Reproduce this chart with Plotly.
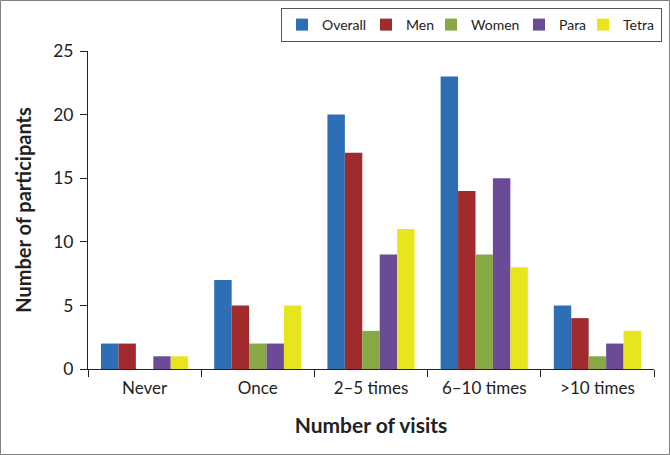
import plotly.graph_objects as go

categories = ["Never", "Once", "2–5 times", "6–10 times", ">10 times"]
overall = [2, 7, 20, 23, 5]
men = [2, 5, 17, 14, 4]
women = [0, 2, 3, 9, 1]
para = [1, 2, 9, 15, 2]
tetra = [1, 5, 11, 8, 3]
series_names = ["Overall", "Men", "Women", "Para", "Tetra"]
colors = ["#2E6EB5", "#A12A2C", "#87A845", "#6C4B96", "#E8E41E"]
legend_widths = [39, 20, 43, 19, 33]

W, H = 670, 455
L, R, T, B = 88, 16, 51, 86
pw, ph = W - L - R, H - T - B

fig = go.Figure()
for name, vals, col, lw in zip(series_names, [overall, men, women, para, tetra], colors, legend_widths):
    fig.add_trace(go.Bar(x=categories, y=vals, name=name, legendwidth=lw,
                         marker=dict(color=col, line=dict(width=0))))

font = "Lato, 'Open Sans', sans-serif"
fig.update_layout(
    width=W, height=H,
    margin=dict(l=L, r=R, t=T, b=B, autoexpand=False),
    paper_bgcolor="white", plot_bgcolor="white",
    barmode="group", bargap=0.23, bargroupgap=0,
    font=dict(family=font, size=17, color="#222"),
    showlegend=True,
    legend=dict(orientation="h", x=(662 - L) / pw, xanchor="right",
                y=(H - B - 8) / ph, yanchor="top",
                bordercolor="#555", borderwidth=1, bgcolor="white",
                font=dict(size=14), itemwidth=30, tracegroupgap=0),
    xaxis=dict(showline=True, linecolor="#222", linewidth=1,
               ticks="outside", tickson="boundaries", ticklen=7, tickcolor="#222",
               ticklabelstandoff=4,
               title=dict(text="<b>Number of visits</b>", font=dict(size=21), standoff=20),
               tickfont=dict(size=17)),
    yaxis=dict(range=[0, 25], dtick=5, showline=True, linecolor="#222", linewidth=1,
               ticks="outside", ticklen=7, tickcolor="#222", showgrid=False, zeroline=False,
               ticklabelstandoff=3,
               title=dict(text="<b>Number of participants</b>", font=dict(size=20), standoff=16),
               tickfont=dict(size=17.5)),
    shapes=[dict(type="rect", xref="paper", yref="paper",
                 x0=(0.5 - L) / pw, x1=(W - 0.5 - L) / pw,
                 y0=(H - B - (H - 0.5)) / ph, y1=(H - B - 0.5) / ph,
                 line=dict(color="#808080", width=1), fillcolor="rgba(0,0,0,0)")],
)
fig.write_html("out.html", config={"displayModeBar": False},
               post_script="document.body.style.margin='0';document.body.style.overflow='hidden';")
